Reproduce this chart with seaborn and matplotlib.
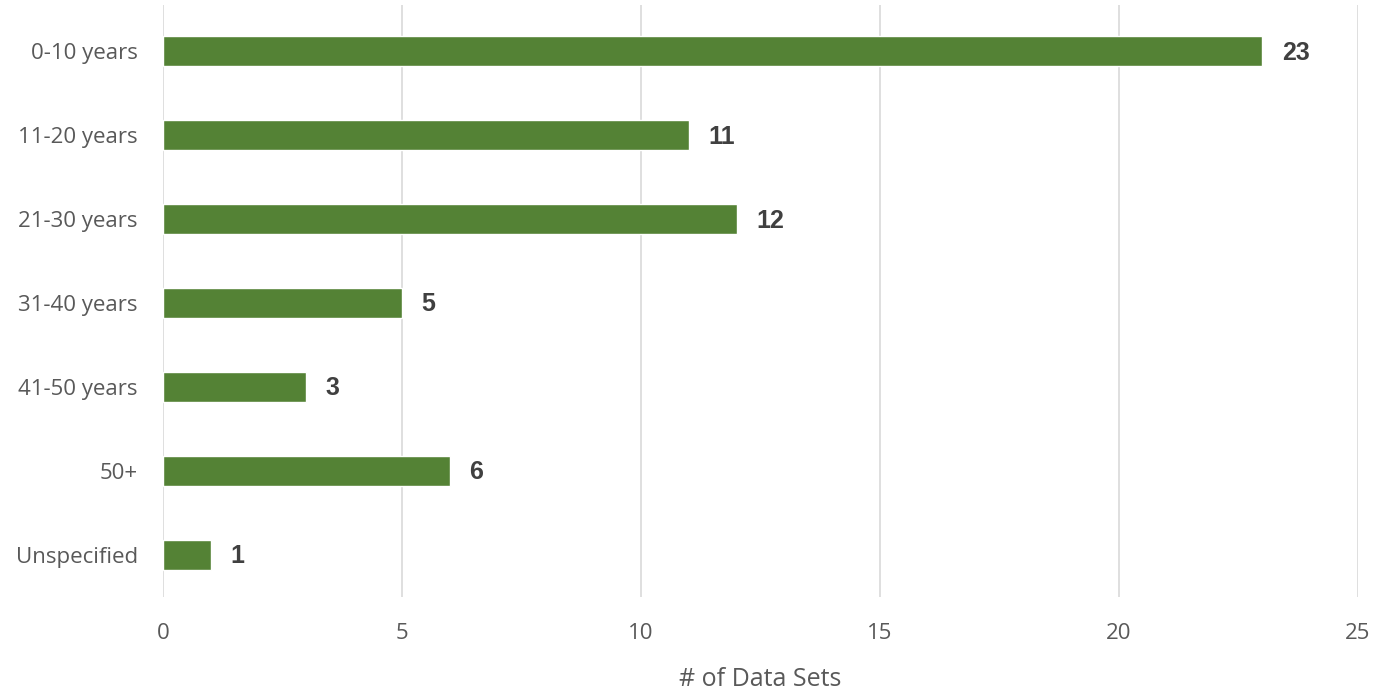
import matplotlib
matplotlib.use("Agg")
import matplotlib.pyplot as plt
import seaborn as sns
import pandas as pd

categories = ["0-10 years", "11-20 years", "21-30 years", "31-40 years",
              "41-50 years", "50+", "Unspecified"]
counts = [23, 11, 12, 5, 3, 6, 1]
x_ticks = [0, 5, 10, 15, 20, 25]

df = pd.DataFrame({"age": categories, "count": counts})

sns.set_theme(style="white")
plt.rcParams["font.family"] = ["Open Sans", "DejaVu Sans"]

fig = plt.figure(figsize=(13.89, 6.94), dpi=100)
ax = fig.add_axes([163 / 1389, 1 - 597 / 694, (1358 - 163) / 1389, (597 - 5) / 694])

sns.barplot(data=df, y="age", x="count", order=categories, color="#548235",
            saturation=1, width=0.36, orient="h", ax=ax, zorder=3)

ax.set_xlim(0, 25)
ax.set_ylim(6.5, -0.55)
ax.set_xticks(x_ticks)
ax.xaxis.grid(True, color="#d9d9d9", linewidth=1.2, zorder=0)
ax.yaxis.grid(False)
for s in ax.spines.values():
    s.set_visible(False)
ax.tick_params(axis="both", length=0, labelsize=16, labelcolor="#595959")
ax.tick_params(axis="x", pad=19)
ax.tick_params(axis="y", pad=18)

ax.set_ylabel("")
ax.set_xlabel("# of Data Sets", fontsize=18, color="#595959", labelpad=16)

for i, v in enumerate(counts):
    ax.annotate(str(v), xy=(v, i), xytext=(14, -1), textcoords="offset points",
                va="center", ha="left", fontsize=18, fontweight="bold",
                color="#404040", family="Liberation Sans")

fig.savefig("out.png", dpi=100, facecolor="white")
